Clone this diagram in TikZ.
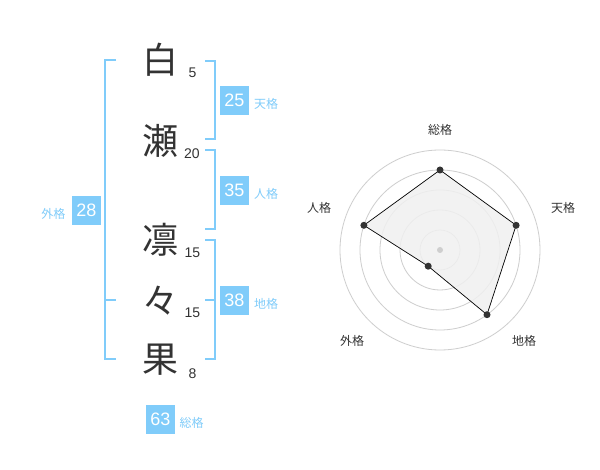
\documentclass[tikz,border=0pt]{standalone}
\usepackage{fontspec}
\setmainfont{Liberation Sans}
\newfontfamily\jp{Noto Sans CJK JP}
\definecolor{bl}{RGB}{128,204,250}
\definecolor{ink}{RGB}{51,51,51}
\definecolor{ringc}{RGB}{206,206,206}
\definecolor{areac}{RGB}{240,240,240}
\begin{document}
\begin{tikzpicture}[x=1pt,y=-1pt,
 kanji/.style={font=\jp\fontsize{36}{36}\selectfont, text=ink, inner sep=0},
 strokes/.style={font=\fontsize{14}{14}\selectfont, text=ink, inner sep=0},
 numbox/.style={fill=bl, text=white, minimum size=29pt, inner sep=0, font=\fontsize{18}{18}\selectfont},
 kaku/.style={font=\jp\fontsize{12}{12}\selectfont, text=bl, inner sep=0},
 brk/.style={draw=bl, line width=2pt},
 axlabel/.style={font=\jp\fontsize{12}{12}\selectfont, text=ink, inner sep=0},
 ringline/.style={draw=ringc, line width=0.8pt},
 dot/.style={circle, fill=ink, inner sep=0, minimum size=7pt}]
\useasboundingbox (0,0) rectangle (600,470);
\fill[white] (0,0) rectangle (600,470);
% brackets
\draw[brk] (116,60) -- (105,60) -- (105,359) -- (116,359);
\draw[brk] (105,300) -- (116,300);
\draw[brk] (205,61) -- (214.5,61) -- (214.5,139) -- (205,139);
\draw[brk] (205,150) -- (214.5,150) -- (214.5,229) -- (205,229);
\draw[brk] (205,240) -- (214.5,240) -- (214.5,359) -- (205,359);
\draw[brk] (205,300) -- (214.5,300);
% kanji
\node[kanji] (k1) at (160,60) {白};
\node[kanji] (k2) at (160,140.5) {瀬};
\node[kanji] (k3) at (160,239.5) {凛};
\node[kanji] (k4) at (160,301) {々};
\node[kanji] (k5) at (160,360) {果};
% stroke counts
\node[strokes] (s1) at (192.5,73) {5};
\node[strokes] (s2) at (192,153.5) {20};
\node[strokes] (s3) at (192.5,252.5) {15};
\node[strokes] (s4) at (192.5,313) {15};
\node[strokes] (s5) at (192.5,373.5) {8};
% boxes and labels
\node[numbox] (ten) at (234.5,100.5) {25};
\node[kaku] (tenl) at (266,104) {天格};
\node[numbox] (jin) at (234.5,190.5) {35};
\node[kaku] (jinl) at (266,194) {人格};
\node[numbox] (gai) at (86.5,210.5) {28};
\node[kaku] (gail) at (53.5,214) {外格};
\node[numbox] (chi) at (234.5,300.5) {38};
\node[kaku] (chil) at (266,304) {地格};
\node[numbox] (sou) at (160.5,419.5) {63};
\node[kaku] (soul) at (191.5,423) {総格};
% radar chart
\coordinate (c) at (440,250);
\foreach \r in {20,40,60,80,100} \draw[ringline] (c) circle[radius=\r];
\coordinate (pS) at (440,170);
\coordinate (pT) at (516.1,225.3);
\coordinate (pC) at (487.0,314.7);
\coordinate (pG) at (428.2,266.2);
\coordinate (pJ) at (363.9,225.3);
\filldraw[fill=areac, fill opacity=0.85, draw=black, line width=0.7pt] (pS) -- (pT) -- (pC) -- (pG) -- (pJ) -- cycle;
\node[circle, fill=ringc, inner sep=0, minimum size=6pt] (cdot) at (c) {};
\foreach \p in {pS,pT,pC,pG,pJ} \node[dot] (d\p) at (\p) {};
\node[axlabel] (aS) at (440,130) {総格};
\node[axlabel] (aT) at (563,208) {天格};
\node[axlabel] (aC) at (524,341) {地格};
\node[axlabel] (aG) at (352,341) {外格};
\node[axlabel] (aJ) at (319,208) {人格};
\end{tikzpicture}
\end{document}
